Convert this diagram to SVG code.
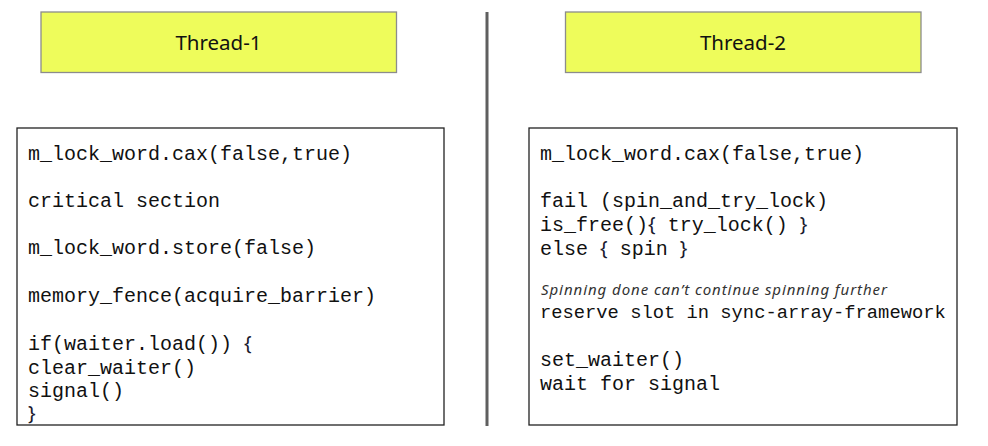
<svg xmlns="http://www.w3.org/2000/svg" width="988" height="446" viewBox="0 0 988 446">
<style>
.hdr{fill:#eefc5b;stroke:#8c8c8c;stroke-width:1.3}
.hdrt{font-family:"Noto Sans","Open Sans",sans-serif;font-size:20.5px;fill:#111;text-anchor:middle}
.box{fill:#fff;stroke:#222;stroke-width:1.3}
.code{font-family:"Liberation Mono","Courier New",monospace;font-size:20px;fill:#111}
.br{font-family:"Noto Sans",sans-serif;fill:#1a1a2e}
.note{font-family:"Noto Sans",sans-serif;font-style:italic;font-size:15px;fill:#333}
</style>
<rect width="988" height="446" fill="#fff"/>
<g id="connectors">
<line x1="487" y1="12" x2="487" y2="426" stroke="#5f5f5f" stroke-width="3"/>
</g>
<g id="thread1">
<rect class="hdr" x="41" y="12" width="355.5" height="60.5"/>
<text class="hdrt" x="218.5" y="50">Thread-1</text>
</g>
<g id="thread2">
<rect class="hdr" x="565.5" y="12" width="355.5" height="60.5"/>
<text class="hdrt" x="743" y="50">Thread-2</text>
</g>
<g id="code1">
<rect class="box" x="17" y="128" width="427" height="297"/>
<text class="code" x="28" y="160">m_lock_word.cax(false,true)</text>
<text class="code" x="28" y="207">critical section</text>
<text class="code" x="28" y="254">m_lock_word.store(false)</text>
<text class="code" x="28" y="302">memory_fence(acquire_barrier)</text>
<text class="code" x="28" y="350">if(waiter.load()) <tspan class="br">{</tspan></text>
<text class="code" x="28" y="374">clear_waiter()</text>
<text class="code" x="28" y="397">signal()</text>
<text class="code" x="28" y="420"><tspan class="br">}</tspan></text>
</g>
<g id="code2">
<rect class="box" x="529" y="128" width="428" height="297"/>
<text class="code" x="540" y="160">m_lock_word.cax(false,true)</text>
<text class="code" x="540" y="207">fail (spin_and_try_lock)</text>
<text class="code" x="540" y="231">is_free()<tspan class="br">{</tspan> try_lock() <tspan class="br">}</tspan></text>
<text class="code" x="540" y="255">else <tspan class="br">{</tspan> spin <tspan class="br">}</tspan></text>
<text class="note" x="541" y="295" textLength="346" lengthAdjust="spacing">Spinning done can’t continue spinning further</text>
<text class="code" x="540" y="318" style="font-size:18.8px">reserve slot in sync-array-framework</text>
<text class="code" x="540" y="366">set_waiter()</text>
<text class="code" x="540" y="390">wait for signal</text>
</g>
</svg>
